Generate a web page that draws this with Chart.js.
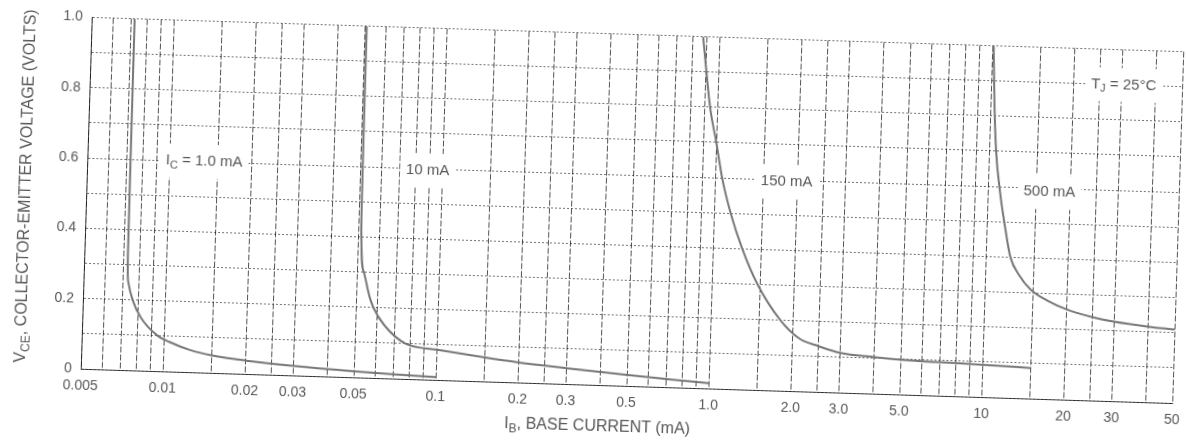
<!DOCTYPE html>
<html>
<head>
<meta charset="utf-8">
<title>Collector Saturation Region</title>
<script src="https://cdn.jsdelivr.net/npm/chart.js@4.4.1/dist/chart.umd.min.js"></script>
<style>
  html, body { margin: 0; padding: 0; background: #fff; overflow: hidden; }
  /* the whole sheet is drawn with a slight clockwise tilt */
  #satChart { display: block; transform: rotate(1.8deg); transform-origin: 633px 210px; }
</style>
</head>
<body>
<canvas id="satChart" width="1186" height="446"></canvas>
<script>
// ---- axis grid and tick labels ----
const ibGrid = [0.005, 0.006, 0.007, 0.008, 0.009,
  0.01, 0.015, 0.02, 0.025, 0.03, 0.04, 0.05, 0.06, 0.07, 0.08, 0.09,
  0.1, 0.15, 0.2, 0.25, 0.3, 0.4, 0.5, 0.6, 0.7, 0.8, 0.9,
  1, 1.5, 2, 2.5, 3, 4, 5, 6, 7, 8, 9,
  10, 15, 20, 25, 30, 40, 50];
const ibLabelValues = [0.005, 0.01, 0.02, 0.03, 0.05, 0.1, 0.2, 0.3, 0.5, 1, 2, 3, 5, 10, 20, 30, 50];
const ibLabelTexts = ['0.005', '0.01', '0.02', '0.03', '0.05', '0.1', '0.2', '0.3', '0.5', '1.0', '2.0', '3.0', '5.0', '10', '20', '30', '50'];

const vceGrid = [0, 0.1, 0.2, 0.3, 0.4, 0.5, 0.6, 0.7, 0.8, 0.9, 1.0];
const vceLabelValues = [0, 0.2, 0.4, 0.6, 0.8, 1.0];
const vceLabelTexts = ['0', '0.2', '0.4', '0.6', '0.8', '1.0'];

// ---- curves: IB (mA) and VCE (V) for each collector current ----
const ib1mA = [0.00718, 0.0072, 0.00722, 0.0073, 0.0076, 0.0082, 0.0095, 0.0105, 0.0125, 0.015, 0.02, 0.03, 0.05, 0.07, 0.1];
const vce1mA = [1.0, 0.6, 0.33, 0.25, 0.2, 0.15, 0.1, 0.084, 0.063, 0.05, 0.038, 0.027, 0.017, 0.012, 0.008];

const ib10mA = [0.0509, 0.051, 0.0512, 0.053, 0.056, 0.058, 0.064, 0.077, 0.1, 0.15, 0.2, 0.3, 0.5, 0.7, 1.0];
const vce10mA = [1.0, 0.7, 0.45, 0.3, 0.23, 0.2, 0.15, 0.1, 0.086, 0.068, 0.057, 0.045, 0.031, 0.023, 0.015];

const ib150mA = [0.87, 0.94, 1.0, 1.06, 1.15, 1.28, 1.47, 1.8, 2.12, 2.5, 3, 4, 5, 7, 10, 15];
const vce150mA = [1.0, 0.8, 0.7, 0.6, 0.5, 0.4, 0.3, 0.2, 0.15, 0.13, 0.113, 0.104, 0.099, 0.095, 0.092, 0.087];

const ib500mA = [10.1, 10.3, 10.6, 11.1, 11.7, 12.3, 13.3, 14.7, 17, 20, 25, 30, 40, 50];
const vce500mA = [1.0, 0.85, 0.7, 0.58, 0.48, 0.4, 0.35, 0.31, 0.28, 0.257, 0.237, 0.226, 0.215, 0.209];

// curve labels: rich text parts, left edge (mA) and centre line (V)
const curveNotes = [
  { parts: [{ t: 'I' }, { t: 'C', sub: true }, { t: ' = 1.0 mA' }], ib: 0.0097, vce: 0.6 },
  { parts: [{ t: '10 mA' }], ib: 0.0736, vce: 0.595 },
  { parts: [{ t: '150 mA' }], ib: 1.47, vce: 0.595 },
  { parts: [{ t: '500 mA' }], ib: 13.5, vce: 0.588 },
  { parts: [{ t: 'T' }, { t: 'J', sub: true }, { t: ' = 25°C' }], ib: 23.2, vce: 0.9 }
];

const TEXT = '#575757';
const FONT = '"Liberation Sans", Arial, sans-serif';

function toPoints(xs, ys) {
  return xs.map((x, i) => ({ x: x, y: ys[i] }));
}

function labelFor(v, values, texts) {
  const i = values.findIndex(t => Math.abs(t - v) < t * 1e-6 + 1e-9);
  return i >= 0 ? texts[i] : '';
}

function measureRich(ctx, parts, size) {
  let w = 0;
  parts.forEach(p => {
    ctx.font = (p.sub ? Math.round(size * 0.72) : size) + 'px ' + FONT;
    p.w = ctx.measureText(p.t).width;
    w += p.w;
  });
  return w;
}

function drawRich(ctx, parts, x, y, size) {
  ctx.textAlign = 'left';
  ctx.textBaseline = 'middle';
  ctx.fillStyle = TEXT;
  let cx = x;
  parts.forEach(p => {
    ctx.font = (p.sub ? Math.round(size * 0.72) : size) + 'px ' + FONT;
    ctx.fillText(p.t, cx, p.sub ? y + size * 0.3 : y);
    cx += p.w;
  });
}

// labels on the grid, axis titles with subscripts
const notesPlugin = {
  id: 'notes',
  afterDraw(chart) {
    const ctx = chart.ctx;
    const xs = chart.scales.x, ys = chart.scales.y;
    ctx.save();
    curveNotes.forEach(n => {
      const w = measureRich(ctx, n.parts, 15);
      const x = xs.getPixelForValue(n.ib);
      const y = ys.getPixelForValue(n.vce);
      ctx.fillStyle = '#fff';
      ctx.fillRect(x - 6, y - 17, w + 12, 34);
      drawRich(ctx, n.parts, x, y, 15);
    });

    // x title
    const xParts = [{ t: 'I' }, { t: 'B', sub: true }, { t: ', BASE CURRENT (mA)' }];
    const xw = measureRich(ctx, xParts, 16);
    drawRich(ctx, xParts, 604 - xw / 2, 428, 16);

    // y title
    const yParts = [{ t: 'V' }, { t: 'CE', sub: true }, { t: ', COLLECTOR-EMITTER VOLTAGE (VOLTS)' }];
    const yw = measureRich(ctx, yParts, 16);
    ctx.translate(25.5, 205);
    ctx.rotate(-Math.PI / 2);
    drawRich(ctx, yParts, -yw / 2, 0, 16);
    ctx.restore();
  }
};

const curveStyle = {
  borderColor: '#767676',
  borderWidth: 2,
  pointRadius: 0,
  fill: false,
  cubicInterpolationMode: 'monotone'
};

new Chart(document.getElementById('satChart'), {
  type: 'line',
  data: {
    datasets: [
      Object.assign({ label: '1.0 mA', data: toPoints(ib1mA, vce1mA) }, curveStyle),
      Object.assign({ label: '10 mA', data: toPoints(ib10mA, vce10mA) }, curveStyle),
      Object.assign({ label: '150 mA', data: toPoints(ib150mA, vce150mA) }, curveStyle),
      Object.assign({ label: '500 mA', data: toPoints(ib500mA, vce500mA) }, curveStyle)
    ]
  },
  options: {
    responsive: false,
    animation: false,
    layout: { padding: { top: 34.5, right: 8, left: 0, bottom: 0 } },
    plugins: { legend: { display: false }, tooltip: { enabled: false } },
    scales: {
      x: {
        type: 'logarithmic',
        min: 0.005,
        max: 50,
        afterBuildTicks: s => { s.ticks = ibGrid.map(v => ({ value: v })); },
        // end labels may hang past the plot edges
        afterFit: s => { s.height = 60; s.paddingLeft = 0; s.paddingRight = 0; },
        grid: { color: 'rgba(0,0,0,0.68)', lineWidth: 1, drawTicks: false },
        border: { color: 'rgba(0,0,0,0.7)', dash: [6, 2] },
        ticks: {
          autoSkip: false, maxRotation: 0, padding: 9, color: TEXT,
          font: { family: FONT, size: 14 },
          callback: v => labelFor(v, ibLabelValues, ibLabelTexts)
        }
      },
      y: {
        min: 0,
        max: 1,
        afterBuildTicks: s => { s.ticks = vceGrid.map(v => ({ value: v })); },
        afterFit: s => { s.width = 86; },
        grid: { color: 'rgba(0,0,0,0.55)', lineWidth: 1, drawTicks: false },
        border: { color: 'rgba(0,0,0,0.7)', dash: [2, 2] },
        ticks: {
          padding: 9, color: TEXT,
          font: { family: FONT, size: 14 },
          callback: v => labelFor(v, vceLabelValues, vceLabelTexts)
        }
      }
    }
  },
  plugins: [notesPlugin]
});
</script>
</body>
</html>
